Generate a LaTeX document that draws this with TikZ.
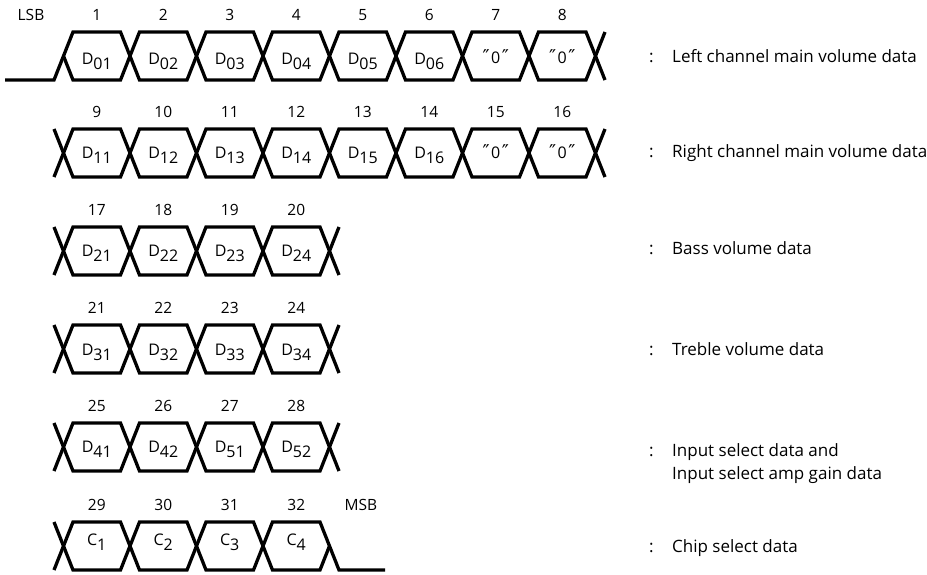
\documentclass[tikz,border=0pt]{standalone}
\usepackage{fontspec}
\setmainfont{Open Sans}
\newfontfamily\symfont{DejaVu Sans}
\newcommand\sbs[1]{\lower5pt\hbox{#1}}
\newcommand\qmark{{\symfont\fontsize{19}{19}\selectfont ″}}
\newcommand\qz{\qmark\kern1.5pt0\kern1.5pt\qmark}
\begin{document}
\begin{tikzpicture}[x=1pt,y=-1pt,
  wave/.style={line width=3.3pt, line join=miter, line cap=butt},
  num/.style={font=\fontsize{15.5}{18}\selectfont, inner sep=0pt, anchor=center},
  cell/.style={font=\fontsize{16}{19}\selectfont, inner sep=0pt, anchor=base},
  lbl/.style={font=\fontsize{17}{23}\selectfont, inner sep=0pt, anchor=base west}]
\useasboundingbox (0,0) rectangle (927,574);

% ---------------- Row 1
\begin{scope}[shift={(0,32)}]
\draw[wave] (5,48) -- (54,48) -- (73,0) -- (120.5,0) -- (139.5,48) -- (187,48) -- (206,0) -- (253.5,0) -- (272.5,48) -- (320,48) -- (339,0)
  -- (386.5,0) -- (405.5,48) -- (453,48) -- (472,0) -- (519.5,0) -- (538.5,48) -- (586,48) -- (605,0);
\draw[wave] (63.5,24) -- (73,48) -- (120.5,48) -- (139.5,0) -- (187,0) -- (206,48) -- (253.5,48) -- (272.5,0) -- (320,0) -- (339,48)
  -- (386.5,48) -- (405.5,0) -- (453,0) -- (472,48) -- (519.5,48) -- (538.5,0) -- (586,0) -- (605,48);
\node[num] (lsb) at (31,-17) {LSB};
\node[num] (n1) at (96.75,-17) {1};
\node[num] (n2) at (163.25,-17) {2};
\node[num] (n3) at (229.75,-17) {3};
\node[num] (n4) at (296.25,-17) {4};
\node[num] (n5) at (362.75,-17) {5};
\node[num] (n6) at (429.25,-17) {6};
\node[num] (n7) at (495.75,-17) {7};
\node[num] (n8) at (562.25,-17) {8};
\node[cell] (d01) at (96.75,32) {D\sbs{01}};
\node[cell] (d02) at (163.25,32) {D\sbs{02}};
\node[cell] (d03) at (229.75,32) {D\sbs{03}};
\node[cell] (d04) at (296.25,32) {D\sbs{04}};
\node[cell] (d05) at (362.75,32) {D\sbs{05}};
\node[cell] (d06) at (429.25,32) {D\sbs{06}};
\node[cell] (z7) at (495.75,31) {\qz};
\node[cell] (z8) at (562.25,31) {\qz};
\node[lbl] (c1) at (649,30) {:};
\node[lbl] (l1) at (672,30) {Left channel main volume data};
\end{scope}

% ---------------- Row 2
\begin{scope}[shift={(0,129)}]
\draw[wave] (54,48) -- (73,0) -- (120.5,0) -- (139.5,48) -- (187,48) -- (206,0) -- (253.5,0) -- (272.5,48) -- (320,48) -- (339,0)
  -- (386.5,0) -- (405.5,48) -- (453,48) -- (472,0) -- (519.5,0) -- (538.5,48) -- (586,48) -- (605,0);
\draw[wave] (54,0) -- (73,48) -- (120.5,48) -- (139.5,0) -- (187,0) -- (206,48) -- (253.5,48) -- (272.5,0) -- (320,0) -- (339,48)
  -- (386.5,48) -- (405.5,0) -- (453,0) -- (472,48) -- (519.5,48) -- (538.5,0) -- (586,0) -- (605,48);
\node[num] (n9) at (96.75,-17) {9};
\node[num] (n10) at (163.25,-17) {10};
\node[num] (n11) at (229.75,-17) {11};
\node[num] (n12) at (296.25,-17) {12};
\node[num] (n13) at (362.75,-17) {13};
\node[num] (n14) at (429.25,-17) {14};
\node[num] (n15) at (495.75,-17) {15};
\node[num] (n16) at (562.25,-17) {16};
\node[cell] (d11) at (96.75,29) {D\sbs{11}};
\node[cell] (d12) at (163.25,29) {D\sbs{12}};
\node[cell] (d13) at (229.75,29) {D\sbs{13}};
\node[cell] (d14) at (296.25,29) {D\sbs{14}};
\node[cell] (d15) at (362.75,29) {D\sbs{15}};
\node[cell] (d16) at (429.25,29) {D\sbs{16}};
\node[cell] (z15) at (495.75,29) {\qz};
\node[cell] (z16) at (562.25,29) {\qz};
\node[lbl] (c2) at (649,28) {:};
\node[lbl] (l2) at (672,28) {Right channel main volume data};
\end{scope}

% ---------------- Row 3
\begin{scope}[shift={(0,227)}]
\draw[wave] (54,48) -- (73,0) -- (120.5,0) -- (139.5,48) -- (187,48) -- (206,0) -- (253.5,0) -- (272.5,48) -- (320,48) -- (339,0);
\draw[wave] (54,0) -- (73,48) -- (120.5,48) -- (139.5,0) -- (187,0) -- (206,48) -- (253.5,48) -- (272.5,0) -- (320,0) -- (339,48);
\node[num] (n17) at (96.75,-17) {17};
\node[num] (n18) at (163.25,-17) {18};
\node[num] (n19) at (229.75,-17) {19};
\node[num] (n20) at (296.25,-17) {20};
\node[cell] (d21) at (96.75,29) {D\sbs{21}};
\node[cell] (d22) at (163.25,29) {D\sbs{22}};
\node[cell] (d23) at (229.75,29) {D\sbs{23}};
\node[cell] (d24) at (296.25,29) {D\sbs{24}};
\node[lbl] (c3) at (649,27) {:};
\node[lbl] (l3) at (672,27) {Bass volume data};
\end{scope}

% ---------------- Row 4
\begin{scope}[shift={(0,325)}]
\draw[wave] (54,48) -- (73,0) -- (120.5,0) -- (139.5,48) -- (187,48) -- (206,0) -- (253.5,0) -- (272.5,48) -- (320,48) -- (339,0);
\draw[wave] (54,0) -- (73,48) -- (120.5,48) -- (139.5,0) -- (187,0) -- (206,48) -- (253.5,48) -- (272.5,0) -- (320,0) -- (339,48);
\node[num] (n21) at (96.75,-17) {21};
\node[num] (n22) at (163.25,-17) {22};
\node[num] (n23) at (229.75,-17) {23};
\node[num] (n24) at (296.25,-17) {24};
\node[cell] (d31) at (96.75,30) {D\sbs{31}};
\node[cell] (d32) at (163.25,30) {D\sbs{32}};
\node[cell] (d33) at (229.75,30) {D\sbs{33}};
\node[cell] (d34) at (296.25,30) {D\sbs{34}};
\node[lbl] (c4) at (649,30) {:};
\node[lbl] (l4) at (672,30) {Treble volume data};
\end{scope}

% ---------------- Row 5
\begin{scope}[shift={(0,423)}]
\draw[wave] (54,48) -- (73,0) -- (120.5,0) -- (139.5,48) -- (187,48) -- (206,0) -- (253.5,0) -- (272.5,48) -- (320,48) -- (339,0);
\draw[wave] (54,0) -- (73,48) -- (120.5,48) -- (139.5,0) -- (187,0) -- (206,48) -- (253.5,48) -- (272.5,0) -- (320,0) -- (339,48);
\node[num] (n25) at (96.75,-17) {25};
\node[num] (n26) at (163.25,-17) {26};
\node[num] (n27) at (229.75,-17) {27};
\node[num] (n28) at (296.25,-17) {28};
\node[cell] (d41) at (96.75,29) {D\sbs{41}};
\node[cell] (d42) at (163.25,29) {D\sbs{42}};
\node[cell] (d51) at (229.75,29) {D\sbs{51}};
\node[cell] (d52) at (296.25,29) {D\sbs{52}};
\node[lbl] (c5) at (649,33) {:};
\node[lbl] (l5a) at (672,33) {Input select data and};
\node[lbl] (l5b) at (672,56) {Input select amp gain data};
\end{scope}

% ---------------- Row 6
\begin{scope}[shift={(0,522)}]
\draw[wave] (54,48) -- (73,0) -- (120.5,0) -- (139.5,48) -- (187,48) -- (206,0) -- (253.5,0) -- (272.5,48) -- (320,48) -- (329.5,24);
\draw[wave] (54,0) -- (73,48) -- (120.5,48) -- (139.5,0) -- (187,0) -- (206,48) -- (253.5,48) -- (272.5,0) -- (320,0) -- (339,48) -- (385,48);
\node[num] (n29) at (96.75,-17) {29};
\node[num] (n30) at (163.25,-17) {30};
\node[num] (n31) at (229.75,-17) {31};
\node[num] (n32) at (296.25,-17) {32};
\node[num] (msb) at (361,-17) {MSB};
\node[cell] (k1) at (96.75,23) {C\sbs{1}};
\node[cell] (k2) at (163.25,23) {C\sbs{2}};
\node[cell] (k3) at (229.75,23) {C\sbs{3}};
\node[cell] (k4) at (296.25,23) {C\sbs{4}};
\node[lbl] (c6) at (649,30) {:};
\node[lbl] (l6) at (672,30) {Chip select data};
\end{scope}
\end{tikzpicture}
\end{document}
